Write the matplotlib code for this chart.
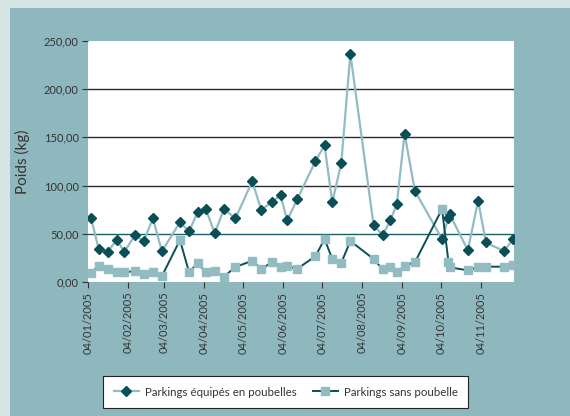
import matplotlib
matplotlib.use("Agg")
import matplotlib.pyplot as plt
import matplotlib.dates as mdates
from matplotlib.patches import Rectangle
from datetime import datetime

dates = ["2005-01-06", "2005-01-12", "2005-01-19", "2005-01-26", "2005-02-01",
         "2005-02-09", "2005-02-16", "2005-02-23", "2005-03-02", "2005-03-16",
         "2005-03-23", "2005-03-30", "2005-04-05", "2005-04-12", "2005-04-19",
         "2005-04-28", "2005-05-11", "2005-05-18", "2005-05-26", "2005-06-02",
         "2005-06-07", "2005-06-15", "2005-06-29", "2005-07-06", "2005-07-12",
         "2005-07-19", "2005-07-26", "2005-08-13", "2005-08-20", "2005-08-26",
         "2005-08-31", "2005-09-06", "2005-09-14", "2005-10-05", "2005-10-10",
         "2005-10-11", "2005-10-25", "2005-11-02", "2005-11-08", "2005-11-22",
         "2005-11-29"]

equipes = [66.7, 34.6, 31.5, 43.5, 31.5, 48.4, 42.5, 66.0, 32.0, 61.9,
           52.5, 73.0, 75.7, 50.5, 75.7, 66.0, 104.5, 74.7, 82.8, 90.0,
           63.8, 86.2, 125.5, 141.7, 82.8, 123.5, 236.8, 59.0, 48.8, 63.8,
           80.9, 153.8, 94.5, 44.6, 66.7, 70.2, 33.0, 84.3, 41.0, 32.0,
           44.5]

sans = [9.3, 17.0, 13.0, 10.7, 10.4, 11.0, 8.0, 10.4, 6.0, 43.5,
        10.4, 19.4, 10.0, 11.4, 5.5, 15.6, 22.0, 13.5, 20.4, 15.2,
        16.3, 13.8, 26.8, 44.6, 23.9, 20.0, 42.5, 23.9, 13.2, 15.2,
        10.0, 17.0, 20.4, 75.7, 21.0, 15.2, 12.1, 15.2, 15.9, 15.9,
        17.6]

tick_dates = ["2005-01-04", "2005-02-04", "2005-03-04", "2005-04-04", "2005-05-04",
              "2005-06-04", "2005-07-04", "2005-08-04", "2005-09-04", "2005-10-04",
              "2005-11-04"]
y_ticks = [0, 50, 100, 150, 200, 250]

series_names = ["Parkings équipés en poubelles", "Parkings sans poubelle"]

FONT = ["Lato", "DejaVu Sans"]
plt.rcParams['font.family'] = FONT

dark = "#0b4f56"
light = "#93bcc2"
panel = "#8fb8be"
border = "#d6e4e5"
textc = "#333333"

x = [datetime.strptime(d, "%Y-%m-%d") for d in dates]
xt = [datetime.strptime(d, "%Y-%m-%d") for d in tick_dates]

fig = plt.figure(figsize=(5.70, 4.16), dpi=100)
fig.patch.set_facecolor(border)
bg = Rectangle((10/570, 0), 1 - 10/570, (416 - 8)/416,
               transform=fig.transFigure, facecolor=panel,
               edgecolor="none", zorder=-10)
fig.add_artist(bg)

ax = fig.add_axes([88.3/570, (416-282)/416, (514.3-88.3)/570, (282-41)/416])
ax.set_zorder(1)
ax.set_facecolor("white")

for yv in [100, 150, 200]:
    ax.axhline(yv, color="#2a2a2a", lw=1.0, zorder=1)
ax.axhline(50, color="#1d5f66", lw=1.0, zorder=1)

ax.plot(x, equipes, color=light, lw=1.6, marker="D", markersize=5.6,
        markerfacecolor=dark, markeredgecolor=dark, label=series_names[0], zorder=3)
ax.plot(x, sans, color=dark, lw=1.4, marker="s", markersize=6.4,
        markerfacecolor=light, markeredgecolor=light, label=series_names[1], zorder=4)

ax.set_ylim(0, 250)
ax.set_xlim(datetime(2005, 1, 4), datetime(2005, 11, 30))
ax.set_yticks(y_ticks)
ax.set_yticklabels([f"{v:.2f}".replace(".", ",") for v in y_ticks])
ax.set_xticks(xt)
ax.xaxis.set_major_formatter(mdates.DateFormatter("%d/%m/%Y"))
ax.tick_params(axis="x", rotation=90, labelsize=8, colors=textc, length=4,
               direction="out", pad=3)
ax.tick_params(axis="y", labelsize=8, colors=textc, length=4, direction="out", pad=3)
for s in ax.spines.values():
    s.set_visible(False)

ax.set_ylabel("Poids (kg)", fontsize=11, color=textc)
ax.yaxis.set_label_coords(-0.137, 0.5)

leg = fig.legend(loc="center", bbox_to_anchor=(285.8/570, (416-392)/416), ncol=2,
                 fontsize=8.3, frameon=True, fancybox=False, edgecolor="#222222",
                 facecolor="white", framealpha=1, handlelength=2.2,
                 columnspacing=1.4, handletextpad=0.5, borderpad=0.9,
                 markerscale=0.85)
leg.set_zorder(5)
leg.get_frame().set_linewidth(0.8)
for t in leg.get_texts():
    t.set_color(textc)

fig.savefig("out.png", dpi=100, facecolor=fig.get_facecolor())
